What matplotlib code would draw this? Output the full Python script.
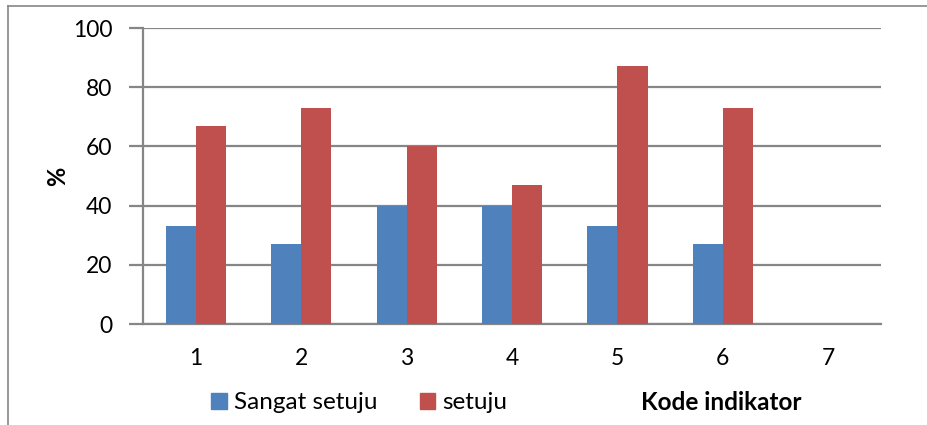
import numpy as np
import matplotlib.pyplot as plt
from matplotlib.lines import Line2D

plt.rcParams['font.family'] = ['Lato', 'DejaVu Sans']

kode = ['1', '2', '3', '4', '5', '6', '7']
sangat_setuju = [33, 27, 40, 40, 33, 27, 0]
setuju = [67, 73, 60, 47, 87, 73, 0]

grey = '#868686'
blue = '#4F81BD'
red = '#C0504D'

fig = plt.figure(figsize=(9.27, 4.25), dpi=100)
ax = fig.add_axes([0.1543, 0.2376, 0.7961, 0.6965])

x = np.arange(len(kode))
w = 0.285
ax.bar(x - w / 2, sangat_setuju, w, color=blue, label='Sangat setuju', zorder=3)
ax.bar(x + w / 2, setuju, w, color=red, label='setuju', zorder=3)

ax.set_xlim(-0.5, len(kode) - 0.5)
ax.set_ylim(0, 100)
ax.set_yticks(range(0, 101, 20))
ax.set_xticks(x)
ax.set_xticklabels(kode)
ax.yaxis.grid(True, color=grey, linewidth=1.6, zorder=0)
ax.set_axisbelow(True)

for s in ['top', 'right']:
    ax.spines[s].set_visible(False)
for s in ['left', 'bottom']:
    ax.spines[s].set_color(grey)
    ax.spines[s].set_linewidth(1.6)

ax.tick_params(axis='y', length=10, width=1.6, color=grey, labelsize=16.5, pad=12)
ax.tick_params(axis='x', length=0, labelsize=16.5, pad=17)

ax.set_ylabel('%', fontsize=17, fontweight='bold', labelpad=3)

# legend and axis title sit together under the plot
handles = [plt.Rectangle((0, 0), 1, 1, color=blue), plt.Rectangle((0, 0), 1, 1, color=red)]
fig.legend(handles, ['Sangat setuju', 'setuju'], loc='center left',
           bbox_to_anchor=(0.228, 0.052), ncol=2, frameon=False, fontsize=17.5,
           handlelength=0.63, handleheight=0.63, handletextpad=0.3, columnspacing=1.75,
           borderaxespad=0, borderpad=0)
fig.text(0.778, 0.052, 'Kode indikator', fontsize=17.5, fontweight='bold',
         ha='center', va='center')

# chart frame
fig.add_artist(Line2D([0.0086, 1.0], [0.986, 0.986], color=grey, linewidth=1.2))
fig.add_artist(Line2D([0.0086, 0.0086], [0.0, 0.986], color=grey, linewidth=1.2))

fig.savefig('out.png', dpi=100)
